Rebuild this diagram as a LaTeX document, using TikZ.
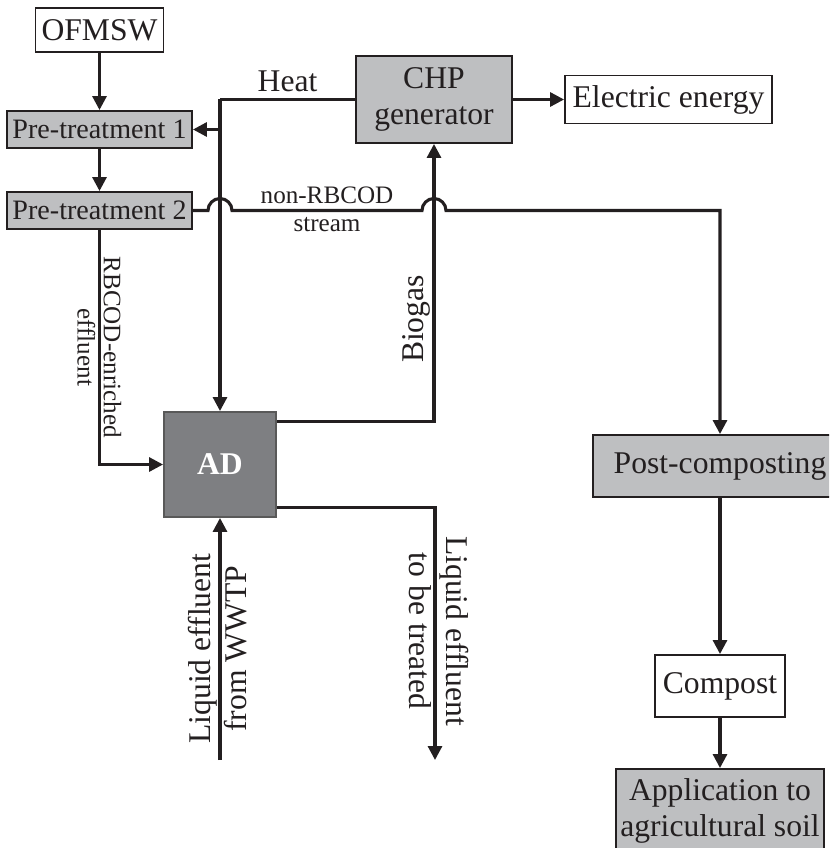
\documentclass[tikz,border=0pt]{standalone}
\usepackage{fontspec}
\setmainfont{Liberation Serif}
\usepackage{xcolor}
\usepackage{tikz}
\usetikzlibrary{arrows.meta, calc}

\definecolor{boxgrey}{RGB}{190,191,193}
\definecolor{adgrey}{RGB}{126,127,130}
\definecolor{ink}{RGB}{35,31,32}

\begin{document}
\begin{tikzpicture}[
    x=0.02cm, y=-0.02cm,
    whitebox/.style={rectangle, draw=ink, line width=1.1pt, fill=white, text=ink, inner sep=0pt, align=center, font=\fontsize{18}{20.5}\selectfont},
    greybox/.style={whitebox, fill=boxgrey},
    darkbox/.style={whitebox, draw=black!65, fill=adgrey, text=white, font=\fontsize{18}{20.5}\selectfont\bfseries},
    flow/.style={-{Triangle[length=0.28cm, width=0.28cm]}, line width=1.75pt, color=ink},
    pipe/.style={line width=1.75pt, color=ink},
    tag/.style={text=ink, inner sep=3.5pt, font=\fontsize{18}{20}\selectfont},
    smalltag/.style={tag, inner sep=3pt, font=\fontsize{14.3}{16}\selectfont}
]
\useasboundingbox (0,0) rectangle (829,848);
\clip (0,0) rectangle (829,848);

% boxes
\node[whitebox, minimum width=2.56cm, minimum height=0.88cm] (ofmsw) at (99.5,30) {OFMSW};
\node[greybox, minimum width=3.7cm, minimum height=0.74cm, font=\fontsize{16}{18}\selectfont] (pre1) at (99.5,129.5) {Pre-treatment 1};
\node[greybox, minimum width=3.7cm, minimum height=0.74cm, font=\fontsize{16}{18}\selectfont] (pre2) at (99.5,210.5) {Pre-treatment 2};
\node[greybox, minimum width=3.12cm, minimum height=1.74cm] (chp) at (434,99.5) {CHP\\generator};
\node[whitebox, minimum width=4.14cm, minimum height=0.96cm] (elec) at (668.5,99.5) {Electric energy};
\node[darkbox, minimum width=2.24cm, minimum height=2.1cm] (ad) at (220,464.5) {AD};
\node[greybox, minimum width=5.08cm, minimum height=1.24cm] (post) at (720,466) {Post-composting};
\node[whitebox, minimum width=2.6cm, minimum height=1.24cm] (compost) at (720,686) {Compost};
\node[greybox, minimum width=4.16cm, minimum height=1.68cm] (appl) at (720,811) {Application to\\agricultural soil};

\coordinate (heatknee) at (ad.north |- chp.west);
\coordinate (bioout) at ($(ad.north east)!0.1!(ad.south east)$);
\coordinate (liqout) at ($(ad.north east)!0.9!(ad.south east)$);
\coordinate (treatend) at (435,760);
\coordinate (wwtp) at (220,760);

% main line
\draw[flow] (ofmsw) -- (pre1);
\draw[flow] (pre1) -- (pre2);
\draw[flow] (chp) -- (elec);
\draw[flow] (post) -- (compost);
\draw[flow] (compost) -- (appl);

% heat
\draw[pipe] (chp.west) -- node[tag, above]{Heat} (heatknee);
\draw[flow] (heatknee) -- (ad.north);
\draw[flow] (heatknee |- pre1.east) -- (pre1.east);

% biogas
\draw[flow] (bioout) -| node[tag, pos=0.685, rotate=90, anchor=south, inner sep=1.5pt]{Biogas} (chp.south);

% non-RBCOD stream, jumping the heat and biogas lines
\draw[flow] (pre2.east) -- ($(heatknee |- pre2.east)+(-12,0)$)
    arc[start angle=180, end angle=0, radius=0.24cm]
    -- node[smalltag, above]{non-RBCOD} node[smalltag, below]{stream}
    ($(chp.south |- pre2.east)+(-12,0)$)
    arc[start angle=180, end angle=0, radius=0.24cm]
    -| (post.north);

% RBCOD-enriched effluent
\draw[flow] (pre2.south) |-
    node[smalltag, pos=0.25, rotate=-90, anchor=south, inner sep=1.5pt]{RBCOD-enriched}
    node[smalltag, pos=0.25, rotate=-90, anchor=north, inner sep=1.5pt]{effluent} (ad.west);

% liquid effluents
\draw[flow] (wwtp) --
    node[tag, pos=0.46, rotate=90, anchor=south, inner sep=0.5pt]{Liquid effluent}
    node[tag, pos=0.46, rotate=90, anchor=north, inner sep=1.5pt]{from WWTP} (ad.south);
\draw[flow] (liqout) -|
    node[tag, pos=0.745, rotate=-90, anchor=south, inner sep=2pt]{Liquid effluent}
    node[tag, pos=0.745, rotate=-90, anchor=north, inner sep=1pt]{to be treated} (treatend);
\end{tikzpicture}
\end{document}
